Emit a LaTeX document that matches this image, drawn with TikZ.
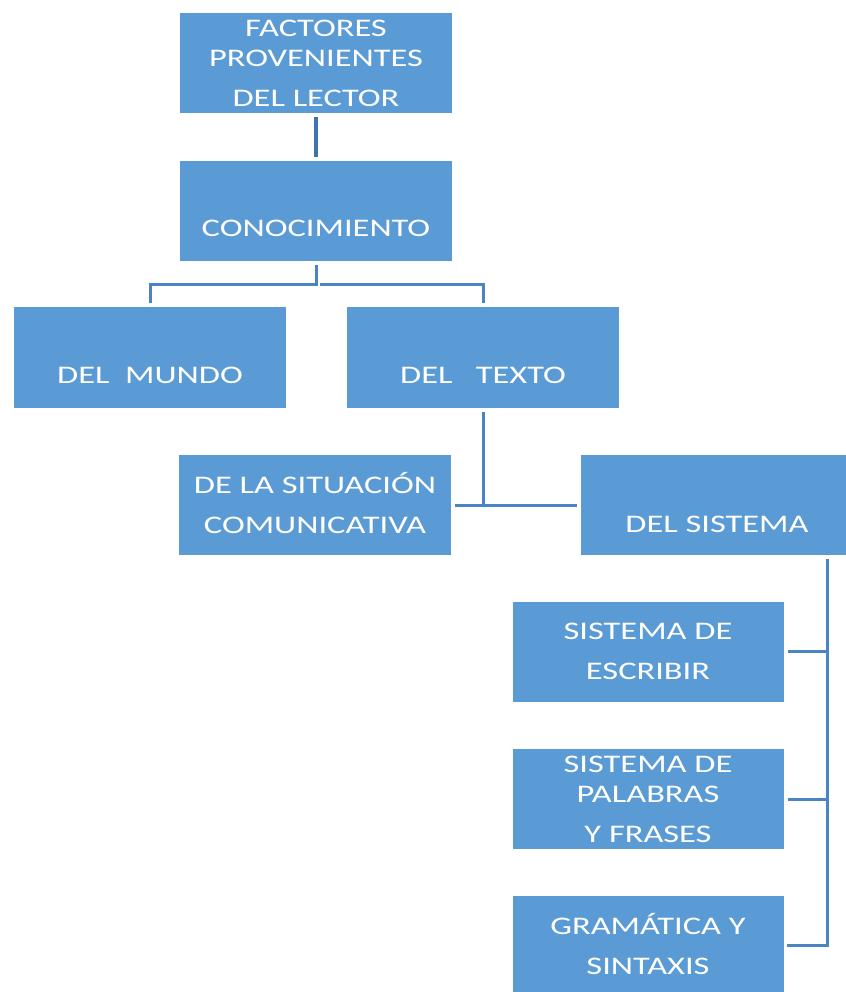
\documentclass[tikz,border=0pt]{standalone}
\usepackage{fontspec}
\usepackage{tikz}
\newfontfamily\boxfont{Carlito}[FakeStretch=1.36]
\definecolor{boxblue}{HTML}{5B9BD5}
\definecolor{linkblue}{HTML}{4A84C4}
\definecolor{darkblue}{HTML}{3E73AE}

\begin{document}
\begin{tikzpicture}[x=0.2mm,y=-0.2mm,
		box/.style={fill=boxblue,draw=none,text=white,minimum width=54.4mm,minimum height=20mm,
			inner sep=0pt,align=center,text height=10.8mm,text depth=0pt,
			font={\boxfont\fontsize{14.4pt}{8mm}\selectfont}},
		tallbox/.style={box,text height=17.4mm},
		link/.style={linkblue,line width=0.6mm,shorten <=0.8mm,shorten >=0.7mm},
		mainlink/.style={darkblue,line width=0.9mm,shorten <=0.8mm,shorten >=0.8mm}]
			\useasboundingbox (0,0) rectangle (846,992);
			\node[tallbox] (lector) at (316,63) {FACTORES\\[-2mm] PROVENIENTES\\ DEL LECTOR};
			\node[box,text height=10.4mm] (conoc) at (316,211) {CONOCIMIENTO};
			\node[box,minimum height=20.2mm,text height=10.6mm] (mundo) at (150,357.5) {DEL\ \ MUNDO};
			\node[box,minimum height=20.2mm,text height=10.6mm] (texto) at (483,357.5) {DEL\ \ \ TEXTO};
			\node[box,text height=11.2mm] (situ) at (315,505) {DE LA SITUACIÓN\\ COMUNICATIVA};
			\node[box] (sistema) at (717,505) {DEL SISTEMA};
			\node[box,minimum width=54.2mm,text height=11mm] (escribir) at (648,651.5) {SISTEMA DE\\ ESCRIBIR};
			\node[tallbox,minimum width=54.2mm,text height=17.2mm] (palabras) at (648,799) {SISTEMA DE\\[-2mm] PALABRAS\\ Y FRASES};
			\node[box,minimum width=54.2mm,minimum height=19.8mm,text height=11.4mm] (gramatica) at (648,945.5) {GRAMÁTICA Y\\ SINTAXIS};
			\coordinate (knot) at (316,285);
			\coordinate (rail) at (827,555);
			\draw[mainlink] (lector.south) -- (conoc.north);
			\draw[link] (conoc.south) -- (knot) -| (mundo.north);
			\draw[link] (knot) -| (texto.north);
			\draw[link,shorten >=0pt] (texto.south) -- (texto.south |- situ.east);
			\draw[link] (situ.east) -- (sistema.west);
			\draw[link] (rail) |- (gramatica.east);
			\foreach \b in {escribir,palabras}
				\draw[link,shorten >=0pt] (\b.east) -- (\b.east -| rail);
\end{tikzpicture}
\end{document}
